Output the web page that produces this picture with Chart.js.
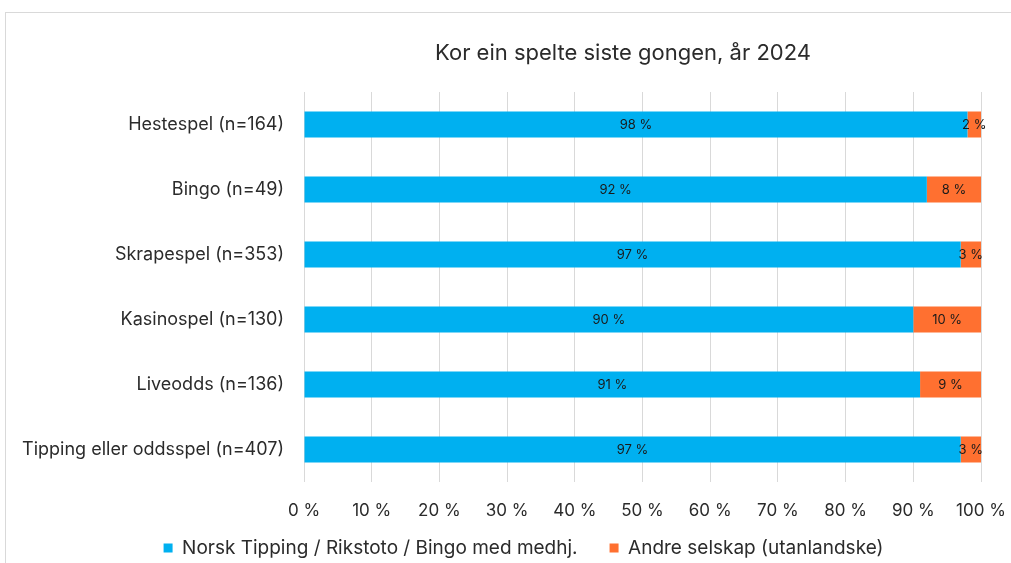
<!DOCTYPE html>
<html>
<head>
<meta charset="utf-8">
<script src="https://cdn.jsdelivr.net/npm/chart.js@4"></script>
<style>
  html, body { margin: 0; padding: 0; background: #fff; overflow: hidden; }
  #wrap { position: relative; width: 1011px; height: 563px; }
  #frame { position: absolute; left: 5px; top: 12px; width: 1100px; height: 700px; border: 1px solid #d9d9d9; }
  canvas { position: absolute; left: 0; top: 0; }
</style>
</head>
<body>
<div id="wrap">
  <div id="frame"></div>
  <canvas id="game-chart" width="1011" height="563"></canvas>
</div>
<script>
// Kor ein spelte siste gongen, år 2024
const categories = [
    "Hestespel (n=164)",
    "Bingo (n=49)",
    "Skrapespel (n=353)",
    "Kasinospel (n=130)",
    "Liveodds (n=136)",
    "Tipping eller oddsspel (n=407)"
];
const norskTipping = [98, 92, 97, 90, 91, 97];
const andreSelskap = [2, 8, 3, 10, 9, 3];
const xTicks = [0, 10, 20, 30, 40, 50, 60, 70, 80, 90, 100];

const fontFamily = "Inter, 'Liberation Sans', sans-serif";
const textColor = "#2b2b2b";
const legendPad = 32;

// title drawn by hand so it sits where the original one does
const titlePlugin = {
    id: "titleText",
    afterDraw(chart) {
        const ctx = chart.ctx;
        ctx.save();
        ctx.font = "22px " + fontFamily;
        ctx.fillStyle = textColor;
        ctx.textAlign = "center";
        ctx.textBaseline = "middle";
        ctx.fillText("Kor ein spelte siste gongen, år 2024", 623, 53);
        ctx.restore();
    }
};

// value labels in the middle of each bar segment
const valueLabels = {
    id: "valueLabels",
    afterDatasetsDraw(chart) {
        const ctx = chart.ctx;
        ctx.save();
        ctx.font = "13px " + fontFamily;
        ctx.fillStyle = "#1a1a1a";
        ctx.textAlign = "center";
        ctx.textBaseline = "middle";
        chart.data.datasets.forEach((ds, i) => {
            chart.getDatasetMeta(i).data.forEach((bar, j) => {
                const x = (bar.x + bar.base) / 2;
                ctx.fillText(ds.data[j] + " %", x, bar.y + 1);
            });
        });
        ctx.restore();
    }
};

// small layout tweaks: long category names may run into the left padding,
// and the legend sits a bit lower than chart.js would put it
const fixLayout = {
    id: "fixLayout",
    afterLayout(chart) {
        chart.scales.y.left = 0;
        const lg = chart.legend;
        const h = lg.bottom - lg.top;
        lg.top = 550 - legendPad - 11.4;
        lg.bottom = lg.top + h;
    }
};

document.addEventListener("DOMContentLoaded", () => {
    var ctx = document.getElementById("game-chart").getContext("2d");

    var chart = new Chart(ctx, {
        type: "bar",
        data: {
            labels: categories,
            datasets: [
                {
                    label: "Norsk Tipping / Rikstoto / Bingo med medhj.",
                    data: norskTipping,
                    backgroundColor: "#00b0f0",
                    borderWidth: 0,
                    barPercentage: 0.4,
                    categoryPercentage: 1.0
                },
                {
                    label: "Andre selskap (utanlandske)",
                    data: andreSelskap,
                    backgroundColor: "#ff7030",
                    borderWidth: 0,
                    barPercentage: 0.4,
                    categoryPercentage: 1.0
                }
            ]
        },
        options: {
            indexAxis: "y",
            responsive: false,
            animation: false,
            layout: { padding: { top: 92, left: 66, right: 30, bottom: -20 } },
            plugins: {
                legend: {
                    position: "bottom",
                    labels: {
                        boxWidth: 9,
                        boxHeight: 9,
                        padding: legendPad,
                        color: textColor,
                        font: { family: fontFamily, size: 19 }
                    }
                },
                title: { display: false },
                tooltip: { enabled: false }
            },
            scales: {
                x: {
                    stacked: true,
                    min: 0,
                    max: 100,
                    afterBuildTicks: (scale) => {
                        scale.ticks = xTicks.map(v => ({ value: v }));
                    },
                    afterFit: (scale) => {
                        scale.height = 40;
                        scale.paddingLeft = 0;
                        scale.paddingRight = 0;
                    },
                    ticks: {
                        color: textColor,
                        padding: 19,
                        font: { family: fontFamily, size: 17 },
                        callback: (value) => value + " %"
                    },
                    grid: { color: "#d9d9d9", drawTicks: false },
                    border: { display: false }
                },
                y: {
                    stacked: true,
                    afterFit: (scale) => { scale.width = 238; },
                    ticks: {
                        color: textColor,
                        padding: 20,
                        font: { family: fontFamily, size: 18 }
                    },
                    grid: { display: false, drawTicks: false },
                    border: { display: false }
                }
            }
        },
        plugins: [titlePlugin, valueLabels, fixLayout]
    });
});
</script>
</body>
</html>
